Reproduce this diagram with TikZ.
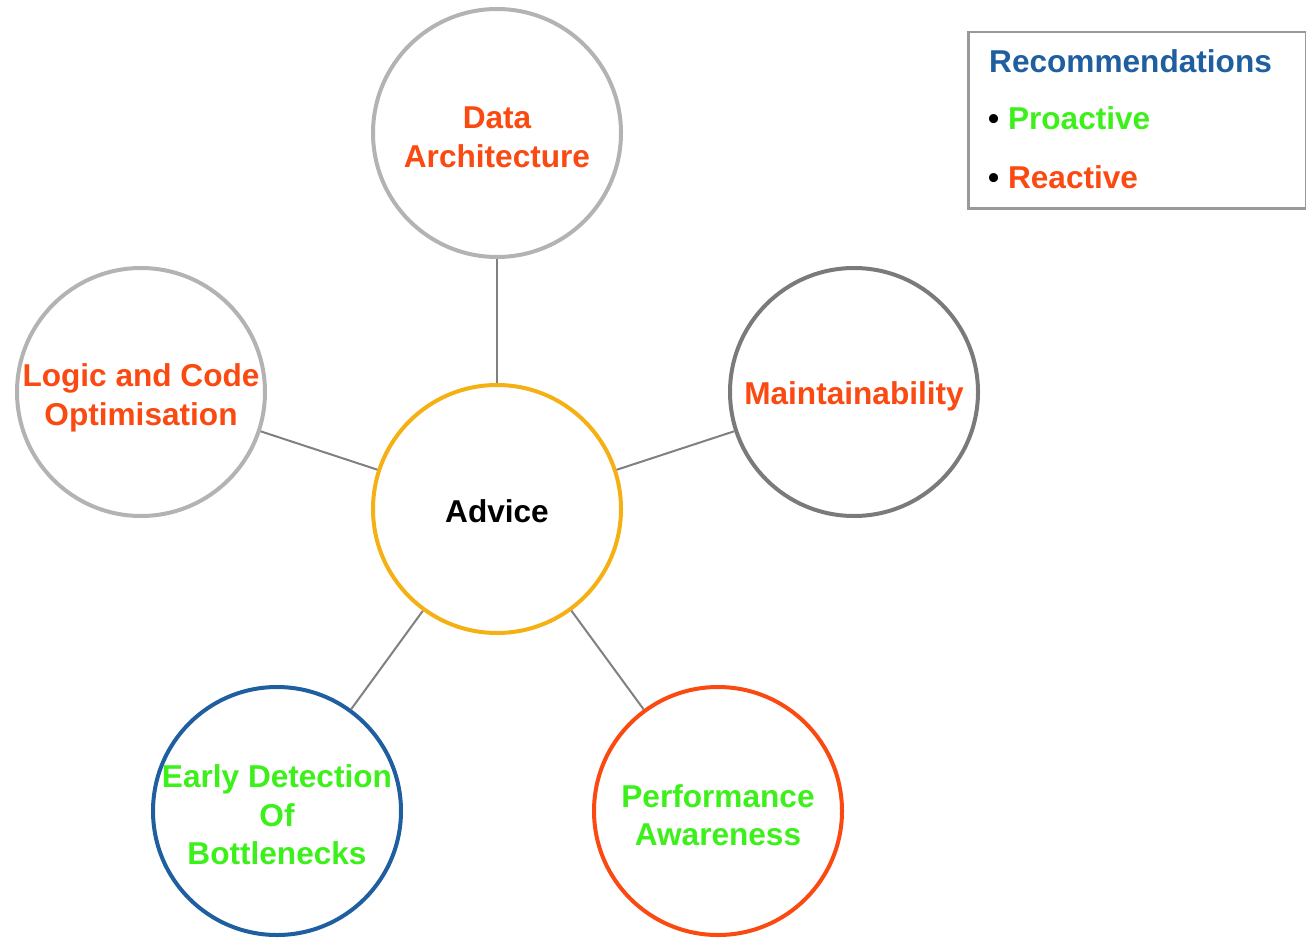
\documentclass[tikz,border=0pt]{standalone}
\usepackage{fontspec}
\setmainfont{Liberation Sans}
\definecolor{orng}{HTML}{FA4A12}
\definecolor{grn}{HTML}{3CF01A}
\definecolor{blu}{HTML}{1F5F9F}
\definecolor{gold}{HTML}{F5B014}
\definecolor{lgray}{HTML}{B3B3B3}
\definecolor{dgray}{HTML}{7A7A7A}
\definecolor{lgcol}{HTML}{808080}
\begin{document}
\begin{tikzpicture}[x=1pt,y=-1pt,
  bubble/.style={circle,minimum size=248pt,inner sep=0pt,line width=4pt,fill=white},
  txt/.style={align=center,inner sep=0pt,yshift=-4pt,
    font=\fontsize{31.6}{38.6}\selectfont\bfseries},
  link/.style={draw=lgcol,line width=2pt},
  legtext/.style={anchor=base west,inner sep=0pt,font=\fontsize{31.6}{38.6}\selectfont\bfseries}]
\useasboundingbox (0,0) rectangle (1306,939);
\node[bubble,draw=gold,label={[txt,yshift=2pt]center:Advice}] (adv) at (497,509) {};
\node[bubble,draw=lgray,label={[txt,text=orng]center:{Data\\Architecture}}] (data) at (497,133) {};
\node[bubble,draw=lgray,label={[txt,text=orng,yshift=-2pt]center:{Logic and Code\\Optimisation}}] (logic) at (141,392) {};
\node[bubble,draw=dgray,label={[txt,text=orng]center:Maintainability}] (maint) at (854,392) {};
\node[bubble,draw=blu,label={[txt,text=grn]center:{Early Detection\\Of\\Bottlenecks}}] (early) at (277,811) {};
\node[bubble,draw=orng,label={[txt,text=grn]center:{Performance\\Awareness}}] (perf) at (718,811) {};
\draw[link] (adv) -- (data);
\draw[link] (adv) -- (logic);
\draw[link] (adv) -- (maint);
\draw[link] (adv) -- (early);
\draw[link] (adv) -- (perf);
\node[draw=lgcol!80,line width=2.5pt,minimum width=338pt,minimum height=176pt,anchor=north west,inner sep=0pt] (leg) at (967,31) {};
\node[legtext,text=blu] (rec) at (989,73) {Recommendations};
\node[legtext] (pro) at (988,130) {\textbullet\ \textcolor{grn}{Proactive}};
\node[legtext] (rea) at (988,188) {\textbullet\ \textcolor{orng}{Reactive}};
\end{tikzpicture}
\end{document}
